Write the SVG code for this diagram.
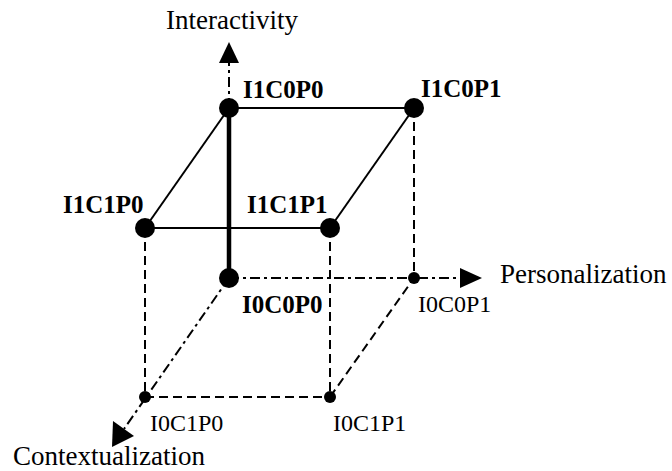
<svg xmlns="http://www.w3.org/2000/svg" width="672" height="471" viewBox="0 0 672 471">
<style>
.solid{stroke:#000;stroke-width:2;fill:none}
.thick{stroke:#000;stroke-width:4.5;fill:none}
.dash{stroke:#000;stroke-width:2;fill:none;stroke-dasharray:9 5}
.dd{stroke:#000;stroke-width:2;fill:none;stroke-dasharray:10 4 3 4}
.big{fill:#000}
.lb{font-family:"Liberation Serif","Times New Roman",serif;font-weight:bold;font-size:25px;fill:#000}
.lr{font-family:"Liberation Serif","Times New Roman",serif;font-size:24px;fill:#000}
.ax{font-family:"Liberation Serif","Times New Roman",serif;font-size:27px;fill:#000}
</style>
<rect width="672" height="471" fill="#fff"/>
<g id="connectors">
<line class="solid" x1="229" y1="108" x2="414" y2="108"/>
<line class="solid" x1="229" y1="108" x2="145" y2="228"/>
<line class="solid" x1="145" y1="228" x2="330" y2="228"/>
<line class="solid" x1="414" y1="108" x2="330" y2="228"/>
<line class="thick" x1="229" y1="108" x2="229" y2="278"/>
<line class="dash" x1="145" y1="228" x2="145" y2="397"/>
<line class="dash" x1="330" y1="228" x2="330" y2="397"/>
<line class="dash" x1="414" y1="108" x2="414" y2="278"/>
<line class="dash" x1="145" y1="397" x2="330" y2="397"/>
<line class="dash" x1="330" y1="397" x2="414" y2="278"/>
<line class="dd" x1="229" y1="278" x2="462" y2="278"/>
<line class="dd" x1="229" y1="278" x2="124" y2="429"/>
<line class="dd" x1="229" y1="108" x2="229" y2="62"/>
<polygon points="229,42 219,63 239,63"/>
<polygon points="482,278 460,268 460,288"/>
<polygon points="112,447 113,421 134,436"/>
</g>
<g id="I1C0P0"><circle class="big" cx="229" cy="108" r="10"/><text class="lb" x="243" y="98">I1C0P0</text></g>
<g id="I1C0P1"><circle class="big" cx="414" cy="108" r="10"/><text class="lb" x="421" y="97">I1C0P1</text></g>
<g id="I1C1P0"><circle class="big" cx="145" cy="228" r="10"/><text class="lb" x="63" y="213">I1C1P0</text></g>
<g id="I1C1P1"><circle class="big" cx="330" cy="228" r="10"/><text class="lb" x="247" y="213">I1C1P1</text></g>
<g id="I0C0P0"><circle class="big" cx="229" cy="278" r="10"/><text class="lb" x="242" y="313">I0C0P0</text></g>
<g id="I0C0P1"><circle class="big" cx="414" cy="278" r="6"/><text class="lr" x="418" y="312">I0C0P1</text></g>
<g id="I0C1P0"><circle class="big" cx="145" cy="397" r="6"/><text class="lr" x="150" y="431">I0C1P0</text></g>
<g id="I0C1P1"><circle class="big" cx="330" cy="397" r="6"/><text class="lr" x="333" y="431">I0C1P1</text></g>
<g id="axes">
<text class="ax" x="166" y="29">Interactivity</text>
<text class="ax" x="500" y="283">Personalization</text>
<text class="ax" x="13" y="465">Contextualization</text>
</g>
</svg>
